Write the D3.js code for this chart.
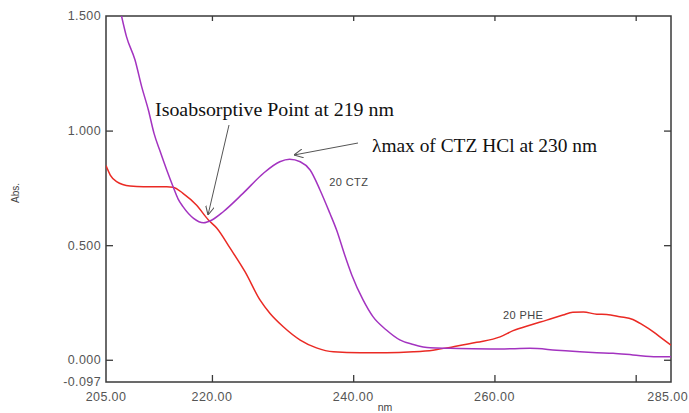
<!DOCTYPE html>
<html>
<head>
<meta charset="utf-8">
<script src="https://cdn.jsdelivr.net/npm/d3@7"></script>
<style>
  body { margin: 0; background: #fff; }
  svg { display: block; }
</style>
</head>
<body>
<svg id="chart" width="689" height="413"></svg>
<script>
// wavelength (nm) / absorbance pairs
const ctzWave = [207.2, 207.9, 209.1, 210.05, 211.0, 211.8, 212.6, 213.6, 214.5, 215.2, 215.9, 217.4, 218.8, 220.0, 221.6, 224.4, 227.3, 229.6, 231.0, 232.5, 233.9, 235.3, 236.7, 237.65, 238.8, 239.8, 241.4, 242.8, 244.7, 246.6, 248.5, 250.9, 253.7, 260.8, 265.0, 268.8, 272.1, 274.5, 276.8, 279.6, 283.0, 285.0];
const ctzAbs = [1.50, 1.41, 1.309, 1.192, 1.09, 0.988, 0.915, 0.828, 0.755, 0.702, 0.668, 0.617, 0.598, 0.61, 0.646, 0.726, 0.814, 0.864, 0.875, 0.864, 0.828, 0.741, 0.639, 0.566, 0.457, 0.37, 0.261, 0.188, 0.13, 0.087, 0.067, 0.052, 0.05, 0.047, 0.05, 0.042, 0.035, 0.031, 0.028, 0.021, 0.013, 0.013];

const pheWave = [205.0, 205.6, 206.5, 208.4, 210.3, 213.6, 214.5, 215.9, 217.8, 219.5, 220.7, 222.55, 224.7, 226.8, 228.2, 230.1, 232.5, 234.8, 237.2, 241.0, 244.7, 248.5, 251.3, 254.2, 257.5, 260.8, 262.65, 265.0, 267.4, 269.7, 271.1, 272.6, 274.5, 275.9, 277.75, 279.6, 281.05, 282.5, 283.9, 285.0];
const pheAbs = [0.847, 0.806, 0.777, 0.758, 0.755, 0.755, 0.753, 0.726, 0.675, 0.61, 0.574, 0.488, 0.383, 0.261, 0.203, 0.144, 0.086, 0.052, 0.035, 0.031, 0.031, 0.035, 0.042, 0.057, 0.076, 0.1, 0.127, 0.151, 0.173, 0.195, 0.207, 0.208, 0.199, 0.198, 0.188, 0.176, 0.151, 0.122, 0.089, 0.064];

const xTickValues = [220, 240, 260, 280];
const xTickLabels = ['205.00', '220.00', '240.00', '260.00', '285.00'];
const xLabelValues = [205, 220, 240, 260, 285];
const yTickValues = [0, 0.5, 1.0];
const yLabelValues = [-0.097, 0, 0.5, 1.0, 1.5];
const yTickLabels = ['-0.097', '0.000', '0.500', '1.000', '1.500'];

const width = 689;
const height = 413;
const margin = { top: 16, right: 18, bottom: 31, left: 106 };

const svg = d3.select('#chart');

const x = d3.scaleLinear().domain([205, 285]).range([margin.left, width - margin.right]);
const y = d3.scaleLinear().domain([-0.097, 1.5]).range([height - margin.bottom, margin.top]);

const labelFont = '"Liberation Sans", Arial, sans-serif';
const serifFont = '"Liberation Serif", "Times New Roman", serif';

svg.append('defs').append('clipPath').attr('id', 'plotClip')
  .append('rect')
  .attr('x', margin.left)
  .attr('y', margin.top)
  .attr('width', width - margin.left - margin.right)
  .attr('height', height - margin.top - margin.bottom);

// frame ticks pointing inward on all four sides
const tickLen = 7;
const frameColor = '#3a3a3a';

svg.append('g')
  .attr('transform', `translate(0,${y(-0.097)})`)
  .call(d3.axisBottom(x).tickValues(xTickValues).tickSize(-tickLen).tickFormat(''))
  .call((g) => g.select('.domain').remove())
  .selectAll('line').attr('stroke', frameColor).attr('stroke-width', 1.3);

svg.append('g')
  .attr('transform', `translate(0,${y(1.5)})`)
  .call(d3.axisTop(x).tickValues(xTickValues).tickSize(-5).tickFormat(''))
  .call((g) => g.select('.domain').remove())
  .selectAll('line').attr('stroke', frameColor).attr('stroke-width', 1.3);

svg.append('g')
  .attr('transform', `translate(${x(205)},0)`)
  .call(d3.axisLeft(y).tickValues(yTickValues).tickSize(-tickLen).tickFormat(''))
  .call((g) => g.select('.domain').remove())
  .selectAll('line').attr('stroke', frameColor).attr('stroke-width', 1.3);

svg.append('g')
  .attr('transform', `translate(${x(285)},0)`)
  .call(d3.axisRight(y).tickValues(yTickValues).tickSize(-tickLen).tickFormat(''))
  .call((g) => g.select('.domain').remove())
  .selectAll('line').attr('stroke', frameColor).attr('stroke-width', 1.3);

svg.append('rect')
  .attr('x', x(205))
  .attr('y', y(1.5))
  .attr('width', x(285) - x(205))
  .attr('height', y(-0.097) - y(1.5))
  .attr('fill', 'none')
  .attr('stroke', frameColor)
  .attr('stroke-width', 1.5);

// tick labels (last one is pushed left so it stays inside the page)
svg.append('g').selectAll('text')
  .data(xLabelValues)
  .join('text')
  .attr('x', (d, i) => (i === xLabelValues.length - 1 ? width - 1 : x(d)))
  .attr('y', y(-0.097) + 19)
  .attr('text-anchor', (d, i) => (i === xLabelValues.length - 1 ? 'end' : 'middle'))
  .attr('font-family', labelFont)
  .attr('font-size', 12.5)
  .attr('fill', '#555')
  .attr('letter-spacing', 0.4)
  .text((d, i) => xTickLabels[i]);

svg.append('g').selectAll('text')
  .data(yLabelValues)
  .join('text')
  .attr('x', x(205) - 5)
  .attr('y', (d) => y(d))
  .attr('dy', '0.35em')
  .attr('text-anchor', 'end')
  .attr('font-family', labelFont)
  .attr('font-size', 12.5)
  .attr('fill', '#555')
  .attr('letter-spacing', 0.4)
  .text((d, i) => yTickLabels[i]);

svg.append('text')
  .attr('transform', 'translate(19,193) rotate(-90)')
  .attr('text-anchor', 'middle')
  .attr('font-family', labelFont)
  .attr('font-size', 10)
  .attr('fill', '#444')
  .text('Abs.');

svg.append('text')
  .attr('x', 385)
  .attr('y', 411)
  .attr('text-anchor', 'middle')
  .attr('font-family', labelFont)
  .attr('font-size', 10.5)
  .attr('fill', '#444')
  .text('nm');

// spectra
const line = d3.line()
  .x((d) => x(d[0]))
  .y((d) => y(d[1]))
  .curve(d3.curveMonotoneX);

const plot = svg.append('g').attr('clip-path', 'url(#plotClip)');

plot.append('path')
  .datum(pheWave.map((w, i) => [w, pheAbs[i]]))
  .attr('d', line)
  .attr('fill', 'none')
  .attr('stroke', '#ea2a24')
  .attr('stroke-width', 1.5);

plot.append('path')
  .datum(ctzWave.map((w, i) => [w, ctzAbs[i]]))
  .attr('d', line)
  .attr('fill', 'none')
  .attr('stroke', '#a333c0')
  .attr('stroke-width', 1.5);

// series labels
svg.append('text')
  .attr('x', x(236.6))
  .attr('y', y(0.76))
  .attr('font-family', labelFont)
  .attr('font-size', 11)
  .attr('fill', '#444')
  .attr('letter-spacing', 0.4)
  .text('20 CTZ');

svg.append('text')
  .attr('x', x(261.2))
  .attr('y', y(0.18))
  .attr('font-family', labelFont)
  .attr('font-size', 11)
  .attr('fill', '#444')
  .attr('letter-spacing', 0.4)
  .text('20 PHE');

// annotations with arrows
const arrowColor = '#555';
svg.select('defs').append('marker')
  .attr('id', 'arrowHead')
  .attr('viewBox', '0 0 10 10')
  .attr('refX', 10)
  .attr('refY', 5)
  .attr('markerWidth', 9)
  .attr('markerHeight', 9)
  .attr('markerUnits', 'userSpaceOnUse')
  .attr('orient', 'auto')
  .append('path')
  .attr('d', 'M0,0 L10,5 L0,10')
  .attr('fill', 'none')
  .attr('stroke', arrowColor)
  .attr('stroke-width', 1.2);

svg.append('line')
  .attr('x1', 229).attr('y1', 125)
  .attr('x2', 208).attr('y2', 215)
  .attr('stroke', arrowColor)
  .attr('stroke-width', 1)
  .attr('marker-end', 'url(#arrowHead)');

svg.append('line')
  .attr('x1', 358).attr('y1', 143)
  .attr('x2', 294).attr('y2', 155)
  .attr('stroke', arrowColor)
  .attr('stroke-width', 1)
  .attr('marker-end', 'url(#arrowHead)');

svg.append('text')
  .attr('x', 155)
  .attr('y', 116)
  .attr('font-family', serifFont)
  .attr('font-size', 19)
  .attr('fill', '#111')
  .attr('textLength', 239)
  .attr('lengthAdjust', 'spacingAndGlyphs')
  .text('Isoabsorptive Point at 219 nm');

svg.append('text')
  .attr('x', 372)
  .attr('y', 152)
  .attr('font-family', serifFont)
  .attr('font-size', 19)
  .attr('fill', '#111')
  .attr('textLength', 225)
  .attr('lengthAdjust', 'spacingAndGlyphs')
  .text('λmax of CTZ HCl at 230 nm');
</script>
</body>
</html>
